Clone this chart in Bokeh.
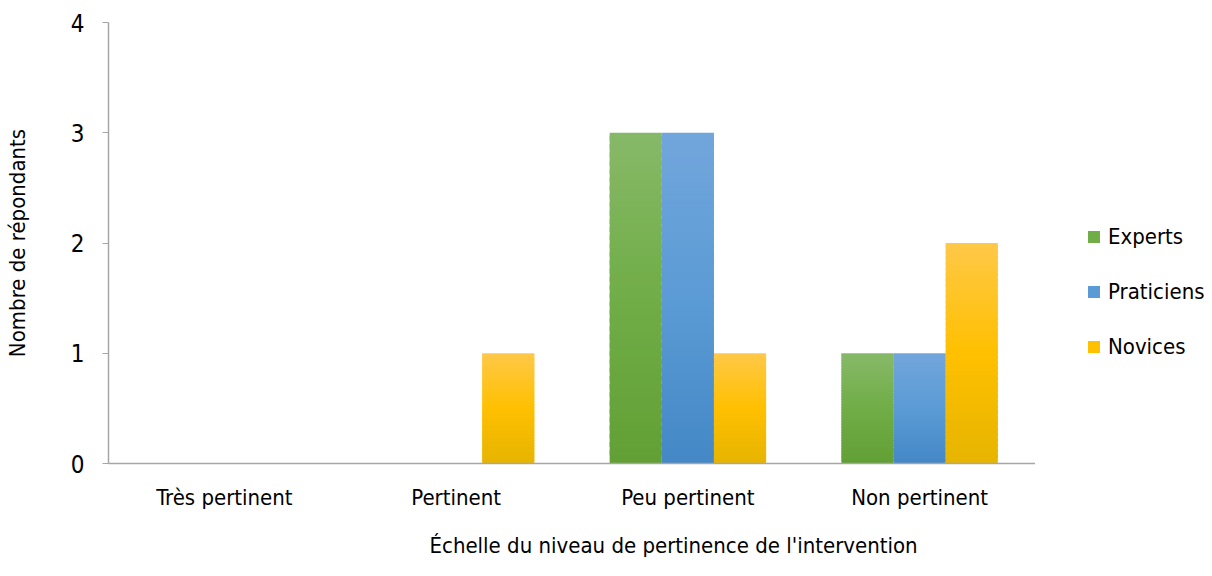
from bokeh.plotting import figure
from bokeh.layouts import row
from bokeh.models import ColumnDataSource, Legend, LegendItem, FactorRange, Range1d, Title
from bokeh.transform import dodge
from bokeh.embed import file_html
from bokeh.resources import INLINE

categories = ["Très pertinent", "Pertinent", "Peu pertinent", "Non pertinent"]
experts = [0, 0, 3, 1]
praticiens = [0, 0, 3, 1]
novices = [0, 1, 1, 2]
series_names = ["Experts", "Praticiens", "Novices"]
y_ticks = [0, 1, 2, 3, 4]
x_title = "Échelle du niveau de pertinence de l'intervention"
y_title = "Nombre de répondants"

# gradient stops: top, middle, bottom
gradients = {
    "Experts": [(0x87, 0xB9, 0x68), (0x70, 0xAD, 0x47), (0x62, 0xA0, 0x35)],
    "Praticiens": [(0x72, 0xA6, 0xDC), (0x5B, 0x9B, 0xD5), (0x44, 0x88, 0xC6)],
    "Novices": [(0xFF, 0xC8, 0x48), (0xFF, 0xC0, 0x00), (0xE6, 0xB4, 0x00)],
}
FONT = "'DejaVu Sans Condensed', 'Roboto Condensed', Roboto, sans-serif"
N = 40

def grad_color(stops, t):
    # t: 0 at top, 1 at bottom
    top, mid, bot = stops
    if t < 0.5:
        a, b, u = top, mid, t / 0.5
    else:
        a, b, u = mid, bot, (t - 0.5) / 0.5
    c = [round(a[i] + (b[i] - a[i]) * u) for i in range(3)]
    return "#%02x%02x%02x" % tuple(c)

p = figure(width=1035, height=576, x_range=FactorRange(*categories, range_padding=0),
           y_range=Range1d(0, 4), output_backend="svg", toolbar_location=None,
           min_border_left=108, min_border_right=0, min_border_top=22, min_border_bottom=113)
p.x_range.range_padding = 0
p.outline_line_color = None
p.xgrid.grid_line_color = None
p.ygrid.grid_line_color = None
p.background_fill_color = "white"
p.border_fill_color = "white"

offsets = [-0.225, 0.0, 0.225]
for name, vals, off in zip(series_names, [experts, praticiens, novices], offsets):
    xs, tops, bots, cols = [], [], [], []
    for c, v in zip(categories, vals):
        for k in range(N):
            xs.append(c)
            bots.append(v * k / N)
            tops.append(min(v * (k + 1.6) / N, v))
            cols.append(grad_color(gradients[name], 1 - (k + 0.5) / N))
    src = ColumnDataSource(dict(x=xs, top=tops, bottom=bots, color=cols))
    p.vbar(x=dodge("x", off, range=p.x_range), top="top", bottom="bottom", width=0.225,
           source=src, fill_color="color", line_color=None)

p.yaxis.ticker = y_ticks
p.yaxis.axis_label = y_title
for ax in (p.xaxis, p.yaxis):
    ax.axis_line_color = "#a6a6a6"
    ax.axis_line_width = 1.5
    ax.major_label_text_font = FONT
    ax.major_label_text_font_size = "22px"
    ax.major_label_text_color = "black"
    ax.axis_label_text_font = FONT
    ax.axis_label_text_font_size = "22px"
    ax.axis_label_text_font_style = "normal"
    ax.axis_label_text_color = "black"
    ax.minor_tick_line_color = None
p.yaxis.major_label_text_font_size = "24px"
p.yaxis.major_tick_line_color = "#a6a6a6"
p.yaxis.major_tick_in = 0
p.yaxis.major_tick_out = 6
p.yaxis.major_label_standoff = 18
p.yaxis.axis_label_standoff = 38
p.xaxis.major_tick_line_color = None
p.xaxis.major_label_standoff = 15

xt = Title(text=x_title, align="left", offset=321, standoff=36,
           text_font=FONT, text_font_size="22px", text_font_style="normal", text_color="black")
p.add_layout(xt, "below")

# legend panel
p2 = figure(width=177, height=576, x_range=Range1d(0, 1), y_range=Range1d(0, 1),
            x_axis_type=None, y_axis_type=None, output_backend="svg", toolbar_location=None,
            min_border_left=0, min_border_right=0, min_border_top=0, min_border_bottom=0)
p2.outline_line_color = None
p2.xgrid.grid_line_color = None
p2.ygrid.grid_line_color = None
items = []
for name in series_names:
    mid = "#%02x%02x%02x" % gradients[name][1]
    r = p2.vbar(x=[5], top=[0], bottom=[0], width=0.1, fill_color=mid, line_color=None)
    items.append(LegendItem(label=name, renderers=[r]))
legend = Legend(items=items, location=(51, 104), border_line_color=None,
                background_fill_alpha=0, padding=0, margin=0, spacing=30,
                glyph_width=15, glyph_height=15, label_height=22, label_standoff=7,
                label_text_font=FONT, label_text_font_size="22px", label_text_color="black")
p2.add_layout(legend, "center")

layout = row(p, p2, spacing=0)
open("out.html", "w").write(file_html(layout, INLINE))
